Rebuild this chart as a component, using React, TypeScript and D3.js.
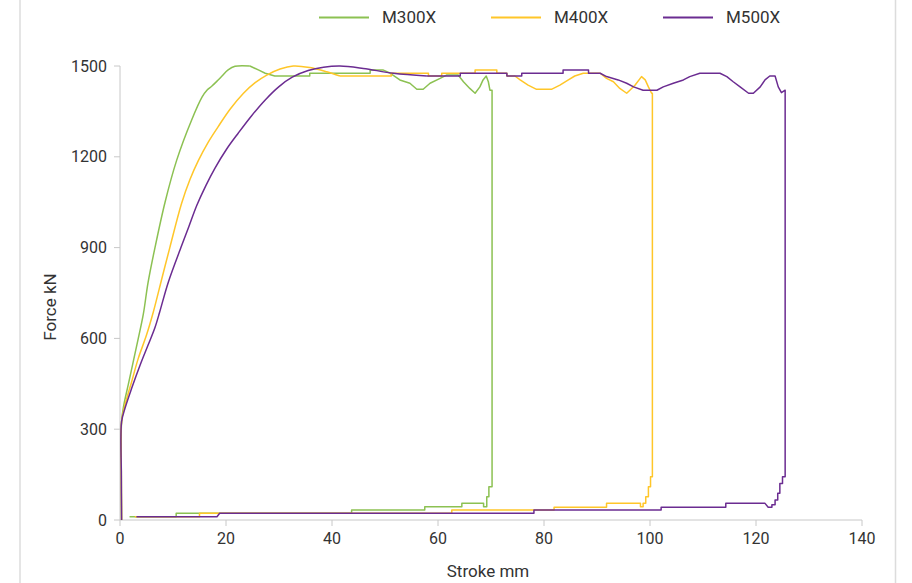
import React from "react";
import * as d3 from "d3";

// Stroke (mm), Force (kN) pairs.
// Each series: a smooth loading rise, then the stepped plateau / unloading return.
const m300xRise: [number, number][] = [
  [0.3, 0], [0.25, 150], [0.3, 325], [0.7, 378], [1.57, 448], [2.5, 523], [3.45, 600],
  [4.4, 680], [5.3, 785], [6.6, 900], [8.5, 1050], [10.7, 1189], [13.5, 1321], [15.5, 1398],
  [16.4, 1420], [17.3, 1433], [18.3, 1450], [19.2, 1466], [20.4, 1487], [21.7, 1499],
  [24.5, 1500],
];
const m300xRest: [number, number][] = [
  [24.5, 1500], [26.1, 1487], [27.4, 1476], [29.2, 1467], [35.8, 1467], [35.8, 1476],
  [47.2, 1476], [47.2, 1487], [49.6, 1487], [51.0, 1476], [51.5, 1470], [52.8, 1454],
  [54.7, 1443], [56.0, 1423], [57.2, 1423], [58.5, 1443], [60.4, 1459], [61.6, 1470],
  [63.8, 1470], [64.8, 1448], [66.0, 1426], [67.0, 1410], [67.9, 1431], [68.5, 1454],
  [69.1, 1467], [69.5, 1448], [69.8, 1420], [70.2, 1420], [70.2, 110], [69.6, 110],
  [69.6, 77], [69.2, 77], [69.2, 44], [68.6, 44], [68.6, 55], [64.5, 55], [64.5, 44],
  [57.5, 44], [57.5, 33], [43.7, 33], [43.7, 22], [10.6, 22], [10.6, 11], [1.8, 11],
];

const m400xRise: [number, number][] = [
  [0.3, 0], [0.25, 150], [0.3, 325], [0.94, 380], [2.2, 457], [3.45, 534], [5.0, 611],
  [6.3, 688], [7.9, 798], [9.4, 900], [11.6, 1045], [13.2, 1125], [14.8, 1188],
  [16.6, 1247], [18.5, 1299], [20.8, 1358], [23.3, 1410], [25.5, 1445], [27.7, 1470],
  [30.2, 1490], [32.7, 1500], [35.8, 1495], [39.0, 1481], [41.5, 1467],
];
const m400xRest: [number, number][] = [
  [41.5, 1467], [51.2, 1467], [51.2, 1476], [58.2, 1476], [58.2, 1467], [60.7, 1467],
  [60.7, 1476], [67.0, 1476], [67.0, 1487], [71.1, 1487], [71.1, 1476], [73.0, 1476],
  [73.0, 1467], [74.5, 1467], [75.5, 1454], [77.0, 1437], [78.6, 1423], [81.4, 1423],
  [83.0, 1437], [84.6, 1454], [85.8, 1467], [87.4, 1476], [90.6, 1476], [91.8, 1459],
  [93.1, 1448], [94.3, 1426], [95.6, 1410], [96.2, 1420], [97.2, 1437], [98.4, 1465],
  [99.1, 1454], [99.7, 1431], [100.3, 1410], [100.45, 1410], [100.45, 143], [100.1, 143],
  [100.1, 110], [99.7, 110], [99.7, 77], [99.2, 77], [99.2, 55], [98.7, 55], [98.7, 44],
  [98.2, 44], [98.2, 55], [91.8, 55], [91.8, 42], [81.9, 42], [81.9, 33], [62.6, 33],
  [62.6, 22], [15.0, 22], [15.0, 11], [2.8, 11],
];

const m500xRise: [number, number][] = [
  [0.3, 0], [0.25, 150], [0.3, 325], [0.94, 369], [2.2, 435], [3.8, 512], [5.3, 578],
  [6.6, 636], [7.5, 688], [9.1, 785], [11.6, 905], [13.0, 970], [14.5, 1040], [16.2, 1105],
  [17.9, 1162], [20.1, 1225], [22.3, 1278], [24.8, 1335], [27.4, 1388], [30.0, 1432],
  [32.5, 1463], [35.5, 1485], [38.4, 1496], [41.5, 1500], [45.9, 1492], [51.6, 1476],
  [57.9, 1467],
];
const m500xRest: [number, number][] = [
  [57.9, 1467], [64.2, 1467], [64.2, 1476], [73.0, 1476], [73.0, 1467], [75.8, 1467],
  [75.8, 1476], [83.6, 1476], [83.6, 1487], [88.4, 1487], [88.4, 1476], [90.6, 1476],
  [91.8, 1465], [94.0, 1454], [95.6, 1443], [96.9, 1431], [98.7, 1420], [101.3, 1420],
  [102.5, 1431], [104.4, 1443], [106.3, 1454], [107.5, 1465], [109.4, 1476], [113.2, 1476],
  [114.5, 1465], [115.7, 1448], [117.0, 1431], [118.6, 1410], [119.5, 1410], [120.8, 1431],
  [121.7, 1454], [122.6, 1467], [123.6, 1467], [124.2, 1431], [124.8, 1412], [125.5, 1420],
  [125.5, 143], [125.0, 143], [125.0, 121], [124.5, 121], [124.5, 88], [124.1, 88],
  [124.1, 66], [123.6, 66], [123.6, 50], [123.0, 50], [123.0, 42], [122.3, 42], [121.7, 55],
  [114.3, 55], [114.3, 42], [102.1, 42], [102.1, 33], [78.1, 33], [78.1, 22], [18.8, 22],
  [18.3, 11], [3.1, 11],
];

const seriesNames = ["M300X", "M400X", "M500X"];
const seriesRise = [m300xRise, m400xRise, m500xRise];
const seriesRest = [m300xRest, m400xRest, m500xRest];
const seriesColors = ["#8cc152", "#ffc629", "#6b2c91"];

const xTicks = [0, 20, 40, 60, 80, 100, 120, 140];
const yTicks = [0, 300, 600, 900, 1200, 1500];

const W = 912;
const H = 583;
const FONT = "Roboto, 'Noto Sans', sans-serif";

export default function App() {
  const x = d3.scaleLinear().domain([0, 140]).range([120, 862]);
  const y = d3.scaleLinear().domain([0, 1500]).range([520, 66]);
  const smooth = d3
    .line<[number, number]>()
    .x((d) => x(d[0]))
    .y((d) => y(d[1]))
    .curve(d3.curveCatmullRom.alpha(0.5));
  const steps = d3
    .line<[number, number]>()
    .x((d) => x(d[0]))
    .y((d) => y(d[1]));

  const axisColor = "#c8c8c8";
  const textColor = "#333";

  return (
    <svg
      width={W}
      height={H}
      style={{ position: "absolute", left: 0, top: 0, background: "#fff" }}
      fontFamily={FONT}
    >
      <rect x={0} y={0} width={W} height={H} fill="#fff" />
      {/* container borders */}
      <line x1={20} x2={20} y1={0} y2={H} stroke="#dcdcdc" strokeWidth={1.5} />
      <line x1={895.5} x2={895.5} y1={0} y2={H} stroke="#dcdcdc" strokeWidth={1.5} />

      {/* legend */}
      {seriesNames.map((name, i) => {
        const lx = 319 + i * 172;
        return (
          <g key={name}>
            <line x1={lx} x2={lx + 50} y1={17.5} y2={17.5} stroke={seriesColors[i]} strokeWidth={2} />
            <text x={lx + 63} y={17.5} dy="0.35em" fontSize={17} fill={textColor}>
              {name}
            </text>
          </g>
        );
      })}

      {/* y axis */}
      <line x1={x(0)} x2={x(0)} y1={y(0)} y2={y(1500)} stroke={axisColor} strokeWidth={1} />
      {yTicks.map((t) => (
        <g key={"y" + t}>
          <line x1={x(0) - 6} x2={x(0)} y1={y(t)} y2={y(t)} stroke={axisColor} strokeWidth={1} />
          <text x={107} y={y(t)} dy="0.35em" textAnchor="end" fontSize={16} fill={textColor}>
            {t}
          </text>
        </g>
      ))}

      {/* x axis */}
      <line x1={x(0)} x2={x(140)} y1={y(0)} y2={y(0)} stroke={axisColor} strokeWidth={1} />
      {xTicks.map((t) => (
        <g key={"x" + t}>
          <line x1={x(t)} x2={x(t)} y1={y(0)} y2={y(0) + 6} stroke={axisColor} strokeWidth={1} />
          <text x={x(t)} y={544} textAnchor="middle" fontSize={16} fill={textColor}>
            {t}
          </text>
        </g>
      ))}

      {/* axis titles */}
      <text x={488} y={577} textAnchor="middle" fontSize={17} fill={textColor}>
        Stroke mm
      </text>
      <text
        transform="translate(56,307) rotate(-90)"
        textAnchor="middle"
        fontSize={17}
        fill={textColor}
      >
        Force kN
      </text>

      {/* series */}
      {seriesNames.map((name, i) => (
        <g key={name} fill="none" stroke={seriesColors[i]} strokeWidth={1.5} strokeLinejoin="round">
          <path d={smooth(seriesRise[i]) || ""} />
          <path d={steps(seriesRest[i]) || ""} />
        </g>
      ))}
    </svg>
  );
}
